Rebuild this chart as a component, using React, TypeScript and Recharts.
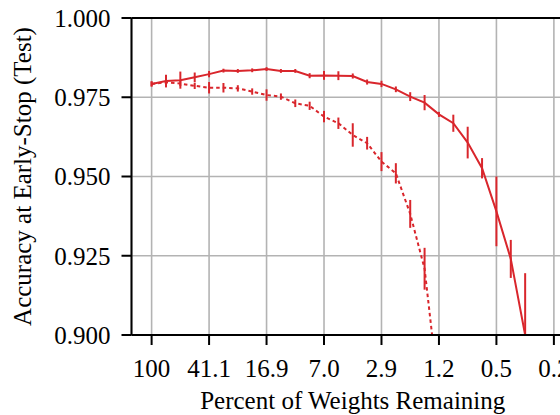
import { LineChart, Line, XAxis, YAxis, CartesianGrid, ErrorBar, ReferenceLine, Label } from 'recharts';

// pruning step k → 100 * 0.8^k percent of weights remaining
const steps = [0, 1, 2, 3, 4, 5, 6, 7, 8, 9, 10, 11, 12, 13, 14, 15, 16, 17, 18, 19, 20, 21, 22, 23, 24, 25, 26];
const tickSteps = [0, 4, 8, 12, 16, 20, 24, 28];
const tickLabels = ['100', '41.1', '16.9', '7.0', '2.9', '1.2', '0.5', '0.2'];
const yTicks = [0.9, 0.925, 0.95, 0.975, 1.0];

// solid curve
const solidAcc = [
  0.9792, 0.9801, 0.9804, 0.9813, 0.9823, 0.9834, 0.9833, 0.9835, 0.9839, 0.9833,
  0.9833, 0.9818, 0.9819, 0.9818, 0.9817, 0.9798, 0.9792, 0.9775, 0.9752, 0.9733,
  0.9696, 0.9668, 0.9607, 0.9526, 0.939, 0.924, 0.9,
];
const solidErr: (number | [number, number])[] = [
  0.0008, 0.002, 0.0027, 0.0015, 0.001, 0.0006, 0.0006, 0.0006, 0.0006, 0.0006,
  0.0006, 0.0008, 0.0014, 0.0014, 0.0008, 0.0008, 0.001, 0.0009, 0.0014, 0.0024,
  0.0008, 0.0027, 0.005, 0.0032, 0.011, 0.006, [0, 0.0195],
];

// dashed curve
const dashedAcc = [
  0.9792, 0.9797, 0.9793, 0.9786, 0.978, 0.978, 0.9778, 0.9768, 0.9757, 0.9752,
  0.9731, 0.9723, 0.9689, 0.9668, 0.9631, 0.9605, 0.9547, 0.951, 0.9382, 0.9209,
  0.881,
];
const dashedErr = [
  0.0008, 0.0008, 0.0008, 0.001, 0.0018, 0.0015, 0.001, 0.001, 0.0018, 0.001,
  0.0012, 0.0013, 0.0018, 0.0018, 0.0037, 0.002, 0.003, 0.0032, 0.0044, 0.0066,
  0,
];

const RED = '#d9262c';
const FONT = "'Liberation Serif', 'Times New Roman', serif";

const data = steps.map((k, i) => ({
  k,
  solid: solidAcc[i],
  solidErr: solidErr[i],
  dashed: dashedAcc[i],
  dashedErr: dashedErr[i],
}));

const YLabel = (props: any) => {
  const vb = props.viewBox || { y: 18, height: 316 };
  const cy = vb.y + vb.height / 2;
  return (
    <text x={31} y={cy} transform={`rotate(-90 31 ${cy})`} textAnchor="middle"
      fontSize={25} fontFamily={FONT} fill="#000">
      Accuracy at Early-Stop (Test)
    </text>
  );
};

export default function App() {
  return (
    <div style={{ position: 'fixed', left: 0, top: 0, width: 560, height: 415, overflow: 'hidden', background: '#fff' }}>
      <LineChart width={584} height={415} data={data} margin={{ top: 18, right: 10, bottom: 0, left: 0 }}>
        <CartesianGrid stroke="#b3b3b3" strokeWidth={1.6} />
        <XAxis
          dataKey="k" type="number" domain={[-1.4, 29.4]} ticks={tickSteps} allowDataOverflow
          tickFormatter={(v) => tickLabels[tickSteps.indexOf(v)] ?? ''}
          height={80} tickSize={10} tickMargin={14}
          stroke="#000" strokeWidth={2}
          tick={{ fontSize: 25, fill: '#000', fontFamily: FONT }}
          tickLine={{ stroke: '#000', strokeWidth: 2 }}
        >
          <Label value="Percent of Weights Remaining" position="insideBottom" offset={6}
            fontSize={25} fill="#000" fontFamily={FONT} />
        </XAxis>
        <YAxis
          type="number" domain={[0.9, 1.0]} ticks={yTicks} allowDataOverflow
          tickFormatter={(v) => v.toFixed(3)}
          width={131.5} tickSize={10} tickMargin={11}
          stroke="#000" strokeWidth={2}
          tick={{ fontSize: 25, fill: '#000', fontFamily: FONT }}
          tickLine={{ stroke: '#000', strokeWidth: 2 }}
        >
          <Label content={YLabel} />
        </YAxis>
        <ReferenceLine y={1.0} stroke="#000" strokeWidth={2} />
        <Line type="linear" dataKey="dashed" stroke={RED} strokeWidth={2} strokeDasharray="3.5 3"
          dot={false} isAnimationActive={false}>
          <ErrorBar dataKey="dashedErr" direction="y" width={0} stroke={RED} strokeWidth={2} />
        </Line>
        <Line type="linear" dataKey="solid" stroke={RED} strokeWidth={2}
          dot={false} isAnimationActive={false}>
          <ErrorBar dataKey="solidErr" direction="y" width={0} stroke={RED} strokeWidth={2} />
        </Line>
      </LineChart>
    </div>
  );
}
